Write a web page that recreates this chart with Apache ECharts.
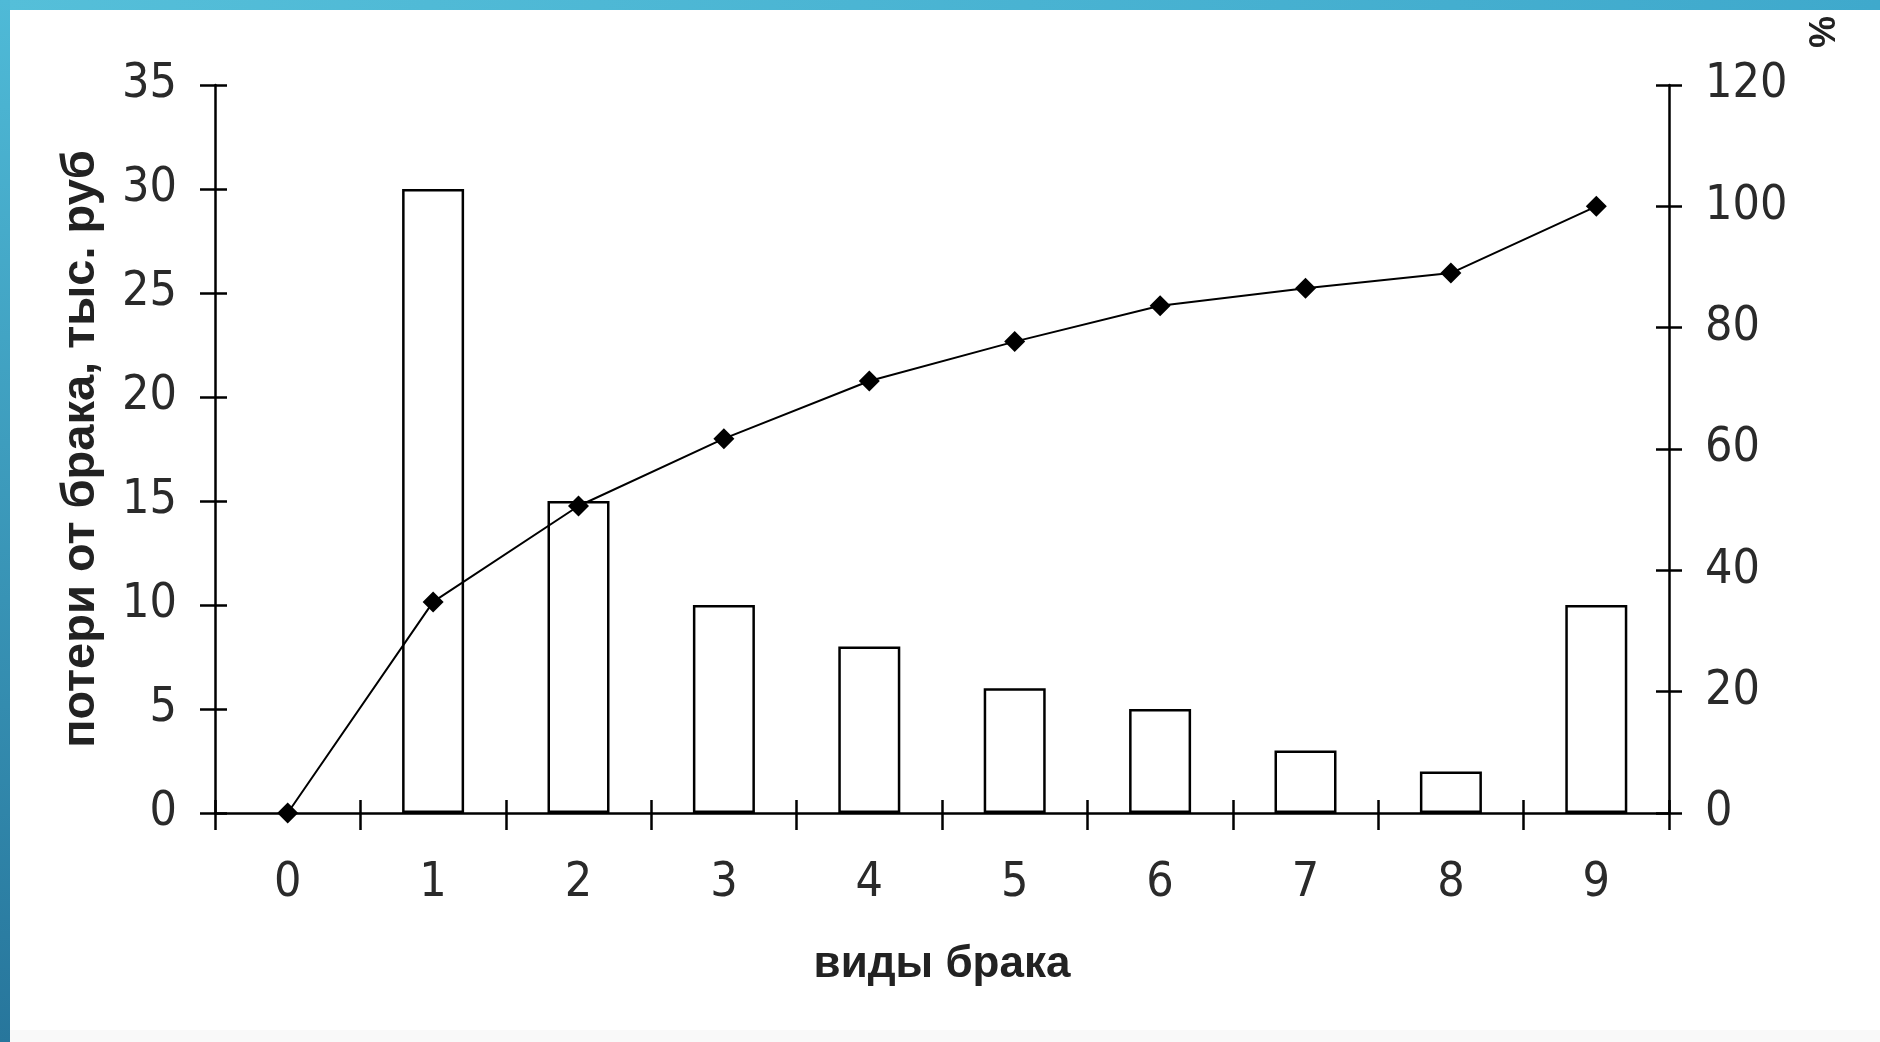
<!DOCTYPE html>
<html>
<head>
<meta charset="utf-8">
<script src="https://cdn.jsdelivr.net/npm/echarts@6/dist/echarts.min.js"></script>
<style>
html,body{margin:0;padding:0;background:#fff;}
#chart{width:1880px;height:1042px;}
</style>
</head>
<body>
<div id="chart"></div>
<script>
// ---- data ----
const categories = ['0','1','2','3','4','5','6','7','8','9'];
const losses = [0, 30, 15, 10, 8, 6, 5, 3, 2, 10];           // потери, тыс. руб
const cumulativePct = [0, 34.8, 50.6, 61.7, 71.2, 77.7, 83.6, 86.5, 89.0, 100]; // %
const leftTicks = {min: 0, max: 35, interval: 5};
const rightTicks = {min: 0, max: 120, interval: 20};
const xTitle = 'виды брака';
const yTitle = 'потери от брака, тыс. руб';
const y2Title = '%';

const NARROW = "'Liberation Sans Narrow', 'Arial Narrow', 'DejaVu Sans Condensed', sans-serif";
const SANS = "'Liberation Sans', Arial, sans-serif";
const AX = {color: '#000', width: 2.5};
const labelStyle = {color: '#2a2a2a', fontFamily: NARROW, fontSize: 48};

const chart = echarts.init(document.getElementById('chart'), null, {renderer: 'canvas'});
chart.setOption({
  backgroundColor: '#ffffff',
  animation: false,
  graphic: [
    {type: 'rect', left: 0, top: 0, shape: {width: 1880, height: 10}, z: 100,
     style: {fill: new echarts.graphic.LinearGradient(0,0,1,0,[{offset:0,color:'#55bfd9'},{offset:1,color:'#3fa9cc'}])}},
    {type: 'rect', left: 0, top: 0, shape: {width: 10, height: 1042}, z: 100,
     style: {fill: new echarts.graphic.LinearGradient(0,0,0,1,[{offset:0,color:'#4fbad7'},{offset:1,color:'#27769c'}])}},
    {type: 'rect', left: 10, top: 1030, shape: {width: 1870, height: 12}, z: 0,
     style: {fill: '#f9f9f9'}},
    {type: 'text', x: 1819, y: 32, rotation: -Math.PI / 2, z: 100,
     style: {text: y2Title, fill: '#222', align: 'center', verticalAlign: 'middle',
             font: "bold 36px 'Liberation Sans', Arial, sans-serif"}}
  ],
  grid: {left: 215, right: 211, top: 85, bottom: 229, containLabel: false},
  xAxis: [
    {type: 'category', data: categories, position: 'bottom',
     axisLine: {lineStyle: AX},
     axisTick: {show: true, inside: false, length: 17, lineStyle: AX, interval: 0},
     axisLabel: Object.assign({margin: 47, interval: 0}, labelStyle),
     name: xTitle, nameLocation: 'middle', nameGap: 130,
     nameTextStyle: {fontFamily: SANS, fontWeight: 'bold', fontSize: 44, color: '#222'}},
    {type: 'category', data: categories, position: 'bottom',
     axisLine: {show: false},
     axisTick: {show: true, inside: true, length: 13, lineStyle: AX, interval: 0},
     axisLabel: {show: false}}
  ],
  yAxis: [
    {type: 'value', position: 'left', min: leftTicks.min, max: leftTicks.max, interval: leftTicks.interval,
     axisLine: {show: true, lineStyle: AX},
     axisTick: {show: true, inside: false, length: 15, lineStyle: AX},
     axisLabel: Object.assign({margin: 38}, labelStyle),
     splitLine: {show: false},
     name: yTitle, nameLocation: 'middle', nameGap: 110,
     nameTextStyle: {fontFamily: SANS, fontWeight: 'bold', fontSize: 47, color: '#222'}},
    {type: 'value', position: 'left', min: leftTicks.min, max: leftTicks.max, interval: leftTicks.interval,
     axisLine: {show: false},
     axisTick: {show: true, inside: true, length: 12, lineStyle: AX},
     axisLabel: {show: false}, splitLine: {show: false}},
    {type: 'value', position: 'right', min: rightTicks.min, max: rightTicks.max, interval: rightTicks.interval,
     axisLine: {show: true, lineStyle: AX},
     axisTick: {show: true, inside: false, length: 13, lineStyle: AX},
     axisLabel: Object.assign({margin: 36}, labelStyle),
     splitLine: {show: false}},
    {type: 'value', position: 'right', min: rightTicks.min, max: rightTicks.max, interval: rightTicks.interval,
     axisLine: {show: false},
     axisTick: {show: true, inside: true, length: 13, lineStyle: AX},
     axisLabel: {show: false}, splitLine: {show: false}}
  ],
  series: [
    {type: 'bar', name: 'losses', data: losses.map(v => (v === 0 ? '-' : v)), xAxisIndex: 0, yAxisIndex: 0,
     barWidth: 62,
     itemStyle: {color: '#ffffff', borderColor: '#000', borderWidth: 2.5},
     z: 2},
    {type: 'line', name: 'cumulative', data: cumulativePct, xAxisIndex: 0, yAxisIndex: 2,
     symbol: 'diamond', symbolSize: 21, showSymbol: true,
     lineStyle: {color: '#000', width: 2},
     itemStyle: {color: '#000'},
     z: 3}
  ]
});
</script>
</body>
</html>
